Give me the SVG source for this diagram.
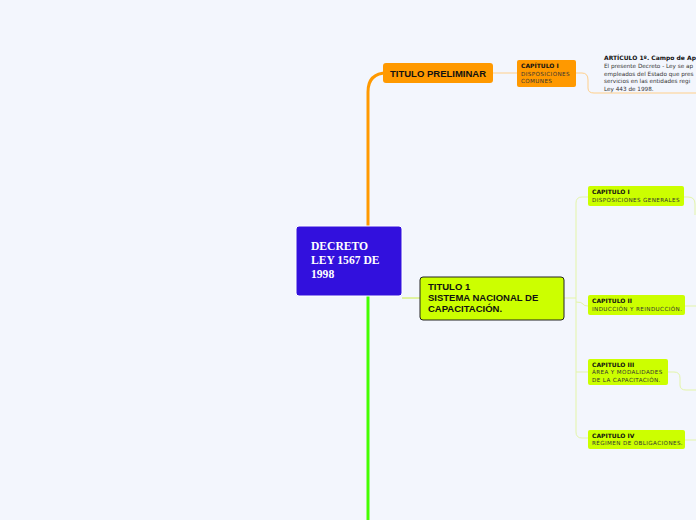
<svg xmlns="http://www.w3.org/2000/svg" width="696" height="520" viewBox="0 0 696 520">
<style>
.bg{fill:#f3f6fd}
.h{font-family:"DejaVu Sans",Verdana,sans-serif;font-weight:bold;font-size:6px;fill:#111}
.s{font-family:"DejaVu Sans",Verdana,sans-serif;font-size:5.6px;fill:#333;letter-spacing:0.4px}
.a{font-family:"DejaVu Sans",Verdana,sans-serif;font-size:5.7px;fill:#333}
.big{font-family:"Liberation Sans",Arial,sans-serif;font-weight:bold;font-size:9.5px;fill:#111}
.lime{fill:#ccff00}
.org{fill:#ff9900}
.cg{fill:none;stroke:#e3f5a8;stroke-width:1}
.co{fill:none;stroke:#ffcf8a;stroke-width:1}
</style>
<rect class="bg" x="0" y="0" width="696" height="520"/>
<g id="connectors">
<path d="M368,226 V92 Q368,73 387,73" fill="none" stroke="#ff9900" stroke-width="3"/>
<path d="M368,296 V520" fill="none" stroke="#44ff00" stroke-width="3"/>
<path d="M493,73 H517" class="co" stroke="#ffb040"/>
<path d="M576,73 H582 Q588,73 588,80 V88 Q588,93 594,93 H696" class="co"/>
<path d="M402,298 H420" fill="none" stroke="#ccee44" stroke-width="1"/>
<path d="M564,298 H576" class="cg"/>
<path d="M588,197 H582 Q576,197 576,203 V432 Q576,438 582,438 H588" class="cg"/>
<path d="M576,302 Q582,302 583,304 Q584,306 588,306" class="cg"/>
<path d="M576,372 H588" class="cg"/>
<path d="M684,197 H688 Q695,197 695,204 V215" class="cg"/>
<path d="M685,306 H696" class="cg"/>
<path d="M668,372 H674 Q680,372 680,378 V385 Q680,390 686,390 H696" class="cg"/>
<path d="M685,440 H696" class="cg"/>
</g>
<g id="central">
<rect x="296" y="226" width="106" height="70" rx="3" fill="#3210dd" stroke="#ffffff" stroke-width="1"/>
<text font-family="'Liberation Serif','Times New Roman',serif" font-weight="bold" font-size="11.6" fill="#ffffff"><tspan x="311" y="250">DECRETO</tspan><tspan x="311" y="264">LEY 1567 DE</tspan><tspan x="311" y="278">1998</tspan></text>
</g>
<g id="titulo-preliminar">
<rect class="org" x="383" y="63" width="110" height="20" rx="3"/>
<text class="big" x="390" y="76.5">TITULO PRELIMINAR</text>
</g>
<g id="capitulo-i-prel">
<rect class="org" x="517" y="60" width="59" height="27" rx="2"/>
<text class="h" x="521" y="67.5">CAPÍTULO I</text>
<text class="s" fill="#4a3000"><tspan x="521" y="75.5">DISPOSICIONES</tspan><tspan x="521" y="82.5">COMUNES</tspan></text>
</g>
<g id="articulo-1">
<text class="h" x="604" y="60" font-size="6.2">ARTÍCULO  1º. Campo de Ap</text>
<text class="a"><tspan x="604" y="68">El presente Decreto - Ley se ap</tspan><tspan x="604" y="75.5">empleados del Estado que pres</tspan><tspan x="604" y="83">servicios en las entidades regi</tspan><tspan x="604" y="90.5">Ley 443 de 1998.</tspan></text>
</g>
<g id="titulo-1">
<rect class="lime" x="420" y="277" width="144" height="43" rx="3" stroke="#222" stroke-width="1"/>
<text class="big"><tspan x="428" y="290">TITULO 1</tspan><tspan x="428" y="301">SISTEMA NACIONAL DE</tspan><tspan x="428" y="312">CAPACITACIÓN.</tspan></text>
</g>
<g id="capitulo-i">
<rect class="lime" x="588" y="186" width="96" height="20" rx="2"/>
<text class="h" x="592" y="193.5">CAPITULO I</text>
<text class="s" x="592" y="201.5">DISPOSICIONES GENERALES</text>
</g>
<g id="capitulo-ii">
<rect class="lime" x="588" y="295" width="97" height="20" rx="2"/>
<text class="h" x="592" y="302.5">CAPITULO II</text>
<text class="s" x="592" y="310.5">INDUCCIÓN Y REINDUCCIÓN.</text>
</g>
<g id="capitulo-iii">
<rect class="lime" x="588" y="359" width="80" height="26" rx="2"/>
<text class="h" x="592" y="366.5">CAPITULO III</text>
<text class="s"><tspan x="592" y="374">ÁREA Y MODALIDADES</tspan><tspan x="592" y="381.5">DE LA CAPACITACIÓN.</tspan></text>
</g>
<g id="capitulo-iv">
<rect class="lime" x="588" y="430" width="97" height="19" rx="2"/>
<text class="h" x="592" y="437.5">CAPITULO IV</text>
<text class="s" x="592" y="445">RÉGIMEN DE OBLIGACIONES.</text>
</g>
</svg>
